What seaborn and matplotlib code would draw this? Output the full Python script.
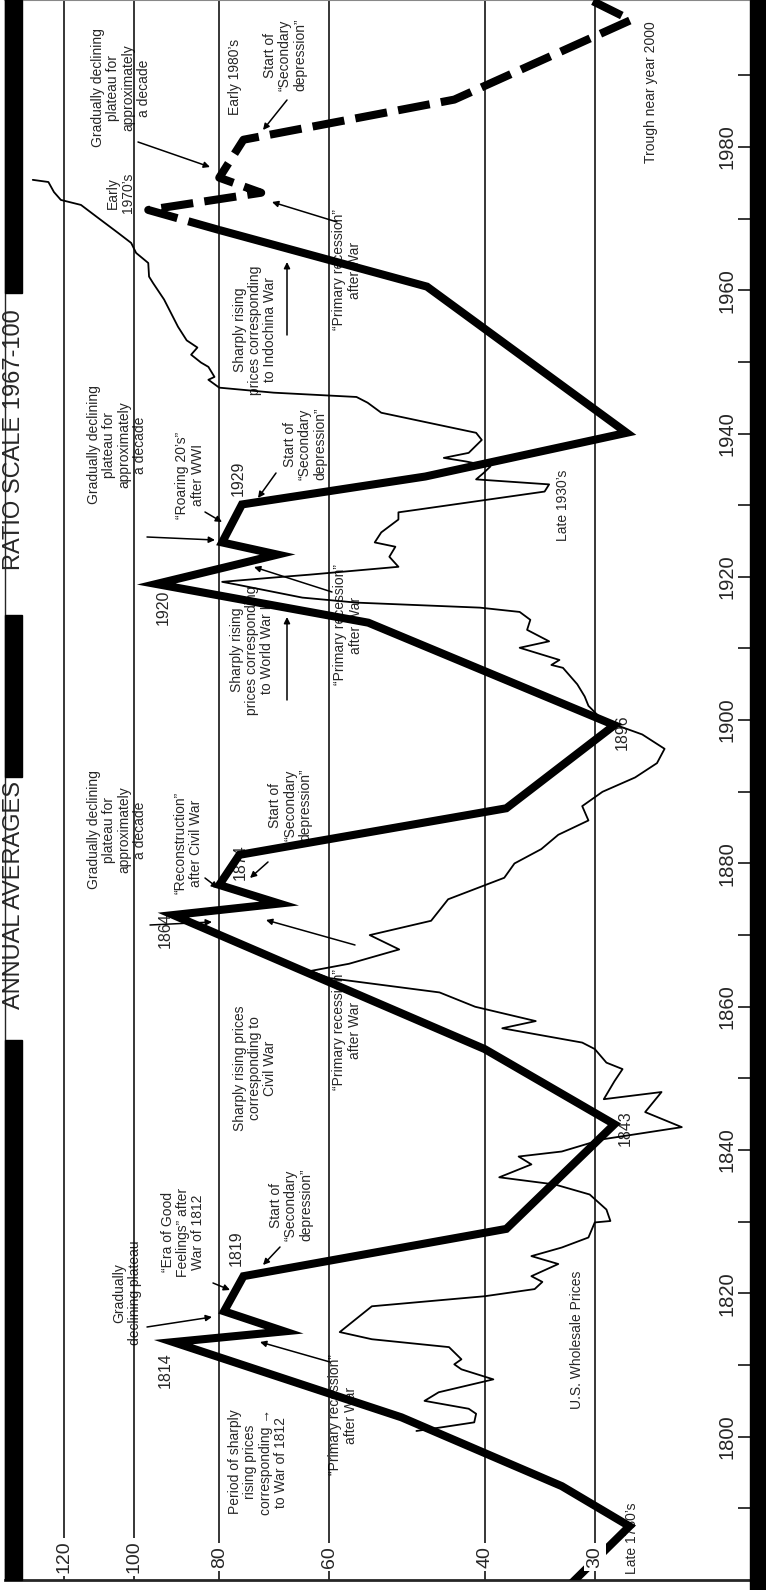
import seaborn as sns
import matplotlib.pyplot as plt
from matplotlib.patches import Rectangle
from matplotlib.ticker import NullLocator

# idealised long wave (solid) and its projection (dashed), index 1967 = 100
wave_years = [1779.5, 1787.5, 1793.1, 1802.7, 1813.2, 1814.7, 1817.5, 1822.4,
              1829.0, 1843.6, 1854.1, 1872.8, 1874.4, 1877.0, 1881.2, 1887.7,
              1899.3, 1913.6, 1919.0, 1923.1, 1924.8, 1930.1, 1934.0, 1940.1,
              1960.5, 1968.4]
wave_values = [31.9, 27.4, 32.7, 49.7, 90.2, 67.5, 79.0, 75.1,
               37.8, 28.5, 40.0, 90.2, 68.4, 80.0, 75.9, 37.8,
               28.5, 54.2, 94.3, 68.7, 79.4, 75.4, 46.7, 27.6,
               46.5, 80.0]
proj_years = [1968.4, 1971.2, 1973.6, 1975.7, 1981.0, 1986.6, 1997.7, 2001.5]
proj_values = [80.0, 96.3, 71.7, 80.0, 75.1, 43.3, 27.3, 31.5]

# U.S. wholesale prices, annual averages
price_years = [1800.8, 1801.3, 1802.0, 1803.2, 1803.9, 1805.0, 1806.2, 1808.0,
               1809.4, 1810.1, 1810.8, 1812.5, 1813.6, 1814.6, 1818.2, 1819.6,
               1820.6, 1821.6, 1822.4, 1824.1, 1825.2, 1826.4, 1827.8, 1829.9,
               1830.1, 1831.7, 1833.8, 1835.2, 1836.2, 1838.0, 1839.1, 1839.8,
               1841.5, 1843.2, 1845.3, 1848.1, 1847.1, 1849.6, 1851.3, 1852.2,
               1854.1, 1855.0, 1857.0, 1858.0, 1860.0, 1862.0, 1864.0, 1865.0,
               1866.0, 1868.0, 1870.0, 1872.0, 1875.0, 1878.0, 1880.0, 1882.0,
               1884.0, 1886.0, 1888.0, 1890.0, 1892.0, 1894.0, 1896.0, 1898.0,
               1900.0, 1902.0, 1903.3, 1905.0, 1907.3, 1907.7, 1908.4, 1910.1,
               1911.0, 1912.6, 1914.0, 1915.1, 1915.7, 1916.4, 1917.1, 1918.9,
               1919.3, 1919.9, 1920.3, 1921.4, 1922.8, 1924.2, 1924.8, 1926.2,
               1928.0, 1929.0, 1929.4, 1931.9, 1932.9, 1933.6, 1934.5, 1935.4,
               1936.1, 1936.6, 1937.3, 1939.1, 1940.1, 1942.9, 1944.3, 1945.1,
               1945.7, 1946.4, 1947.5, 1947.9, 1949.3, 1949.9, 1951.0, 1952.0,
               1953.0, 1954.9, 1958.7, 1961.0, 1961.9, 1963.8, 1965.2, 1966.6,
               1968.0, 1970.1, 1971.9, 1972.6, 1973.7, 1975.1, 1975.4]
price_values = [47.8, 44.8, 41.1, 40.9, 41.7, 46.8, 45.1, 39.1,
                42.5, 43.3, 42.5, 43.9, 53.7, 58.4, 53.7, 40.0,
                35.1, 34.4, 35.4, 33.0, 35.4, 32.7, 30.5, 30.0,
                28.8, 29.1, 30.4, 33.3, 38.5, 35.4, 36.6, 32.7,
                29.4, 23.9, 26.3, 25.2, 29.3, 28.5, 27.9, 29.1,
                30.0, 31.0, 38.2, 35.0, 41.0, 45.0, 60.0, 63.0,
                57.0, 50.0, 54.0, 46.0, 44.0, 38.0, 37.0, 34.5,
                33.0, 30.5, 31.0, 29.4, 27.0, 25.5, 25.0, 26.5,
                29.4, 30.5, 30.8, 31.4, 32.6, 33.6, 32.9, 36.5,
                33.8, 35.8, 35.5, 36.5, 40.5, 55.9, 64.4, 76.3,
                79.4, 69.4, 63.2, 50.1, 51.3, 50.5, 53.3, 52.4,
                50.1, 50.1, 47.5, 34.2, 33.8, 40.9, 40.1, 39.4,
                42.0, 44.5, 41.7, 40.3, 40.9, 52.4, 54.3, 55.9,
                69.4, 80.0, 82.3, 81.0, 82.3, 83.9, 86.1, 84.7,
                87.1, 89.1, 92.4, 95.1, 96.1, 96.3, 99.4, 100.7,
                104.2, 109.8, 114.8, 121.0, 123.2, 125.0, 130.2]

grid_values = [120, 100, 80, 60, 40, 30]
year_ticks = list(range(1790, 2000, 10))
year_labels = list(range(1800, 2000, 20))

W, H = 766, 1590
X0, X1, Y0, Y1 = 5, 750, 0, 1580   # plot area in picture pixels

LQ, RQ = '\u201c', '\u201d'
recession = LQ + 'Primary recession' + RQ + '\nafter War'
secondary = 'Start of\n' + LQ + 'Secondary\ndepression' + RQ
plateau = 'Gradually declining\nplateau for\napproximately\na decade'

# text, x, y (picture pixels, centre), size
notes = [
    ('Period of sharply\nrising prices\ncorresponding \u2192\nto War of 1812', 258, 1462, 10),
    (recession, 343, 1415, 10),
    ('1814', 165, 1370, 11.5),
    ('Gradually\ndeclining plateau', 127, 1293, 10),
    (LQ + 'Era of Good\nFeelings' + RQ + ' after\nWar of 1812', 183, 1232, 10),
    ('1819', 236, 1248, 11.5),
    (secondary, 291, 1205, 10),
    ('Sharply rising prices\ncorresponding to\nCivil War', 255, 1068, 10),
    (recession, 347, 1030, 10),
    ('1843', 625, 1128, 11.5),
    ('U.S. Wholesale Prices', 577, 1340, 10),
    ('Late 1780\u2019s', 632, 1538, 10),
    ('1864', 165, 930, 11.5),
    (plateau, 117, 830, 10),
    (LQ + 'Reconstruction' + RQ + '\nafter Civil War', 188, 843, 10),
    ('1874', 240, 862, 11.5),
    (secondary, 290, 805, 10),
    ('1896', 622, 732, 11.5),
    ('Sharply rising\nprices corresponding\nto World War I', 252, 650, 10),
    (recession, 348, 625, 10),
    ('1920', 163, 607, 11.5),
    (plateau, 117, 445, 10),
    (LQ + 'Roaring 20\u2019s' + RQ + '\nafter WWI', 190, 475, 10),
    ('1929', 238, 478, 11.5),
    (secondary, 305, 444, 10),
    ('Late 1930\u2019s', 563, 505, 10),
    ('Sharply rising\nprices corresponding\nto Indochina War', 255, 330, 10),
    (recession, 347, 270, 10),
    ('Early\n1970\u2019s', 120, 193, 10),
    (plateau, 121, 88, 10),
    ('Early 1980\u2019s', 235, 77, 10),
    (secondary, 285, 55, 10),
    ('Trough near year 2000', 651, 92, 10),
]

# arrow tail x, y -> head x, y (picture pixels)
arrows = [
    (330, 1362, 260, 1342),
    (147, 1327, 212, 1317),
    (213, 1283, 230, 1290),
    (280, 1247, 263, 1265),
    (355, 945, 266, 920),
    (150, 925, 212, 922),
    (205, 878, 218, 888),
    (268, 862, 250, 878),
    (287, 700, 287, 617),
    (332, 592, 254, 567),
    (147, 537, 215, 540),
    (205, 512, 222, 522),
    (276, 473, 258, 498),
    (287, 335, 287, 262),
    (337, 222, 272, 202),
    (138, 142, 210, 167),
    (287, 100, 263, 130),
]


def pos(x, y):
    return ((x - X0) / (X1 - X0), (Y1 - y) / (Y1 - Y0))


sns.set_style('white')
plt.rcParams['font.family'] = ['Liberation Sans', 'DejaVu Sans']

fig = plt.figure(figsize=(W / 100, H / 100), dpi=100)
ax = fig.add_axes([X0 / W, (H - Y1) / H, (X1 - X0) / W, (Y1 - Y0) / H])
ax.set_xscale('log')

for v in grid_values:
    ax.axvline(v, color='black', lw=1.1, zorder=2)

sns.lineplot(x=price_values, y=price_years, sort=False, estimator=None,
             color='black', lw=1.3, ax=ax, zorder=3)
sns.lineplot(x=wave_values, y=wave_years, sort=False, estimator=None,
             color='black', lw=5.8, ax=ax, zorder=4,
             solid_joinstyle='miter', solid_capstyle='butt')
sns.lineplot(x=proj_values, y=proj_years, sort=False, estimator=None,
             color='black', lw=5.8, ax=ax, zorder=4,
             linestyle=(0, (4, 1.4)), dash_capstyle='butt')

ax.set_xlim(140, 20)
ax.set_ylim(1780, 2000.5)
ax.set_xlabel('')
ax.set_ylabel('')
ax.set_xticks([])
ax.xaxis.set_minor_locator(NullLocator())
ax.set_yticks(year_ticks)
ax.yaxis.set_minor_locator(NullLocator())
ax.tick_params(axis='y', left=False, right=True, labelleft=False,
               labelright=False, direction='in', length=9, width=1.3)
ax.spines['right'].set_visible(False)
ax.spines['left'].set_linewidth(1)
ax.spines['bottom'].set_linewidth(2)
ax.spines['top'].set_color('#888888')
ax.spines['top'].set_linewidth(1.5)

for v in grid_values:
    ax.text(v, 1783.2, str(v), rotation=90, ha='center', va='center',
            fontsize=14, zorder=6,
            bbox=dict(fc='white', ec='none', pad=2))
for yr in year_labels:
    ax.text(0.969, yr, str(yr), transform=ax.get_yaxis_transform(),
            rotation=90, ha='center', va='center', fontsize=14.5)

for s, x, y, size in notes:
    ax.text(*pos(x, y), s, transform=ax.transAxes, rotation=90,
            ha='center', va='center', fontsize=size, linespacing=1.1,
            multialignment='center', zorder=1.5)
for x0, y0, x1, y1 in arrows:
    ax.annotate('', xy=pos(x1, y1), xytext=pos(x0, y0),
                xycoords='axes fraction', textcoords='axes fraction',
                arrowprops=dict(arrowstyle='-|>', color='black', lw=1.1,
                                mutation_scale=9, shrinkA=0, shrinkB=0))

# black border strips with the caption boxes
fig.add_artist(Rectangle((X1 / W, 0), (W - X1) / W, 1,
                         transform=fig.transFigure, color='black', zorder=10))
for ya, yb in [(0, 293), (615, 777), (1040, 1580)]:
    fig.add_artist(Rectangle((5 / W, (H - yb) / H), 17 / W, (yb - ya) / H,
                             transform=fig.transFigure, color='black',
                             zorder=10))
fig.text(14 / W, 1 - 440 / H, 'RATIO SCALE 1967-100', rotation=90,
         ha='center', va='center', fontsize=17)
fig.text(14 / W, 1 - 895 / H, 'ANNUAL AVERAGES', rotation=90,
         ha='center', va='center', fontsize=17)

fig.savefig('out.png', dpi=100)
